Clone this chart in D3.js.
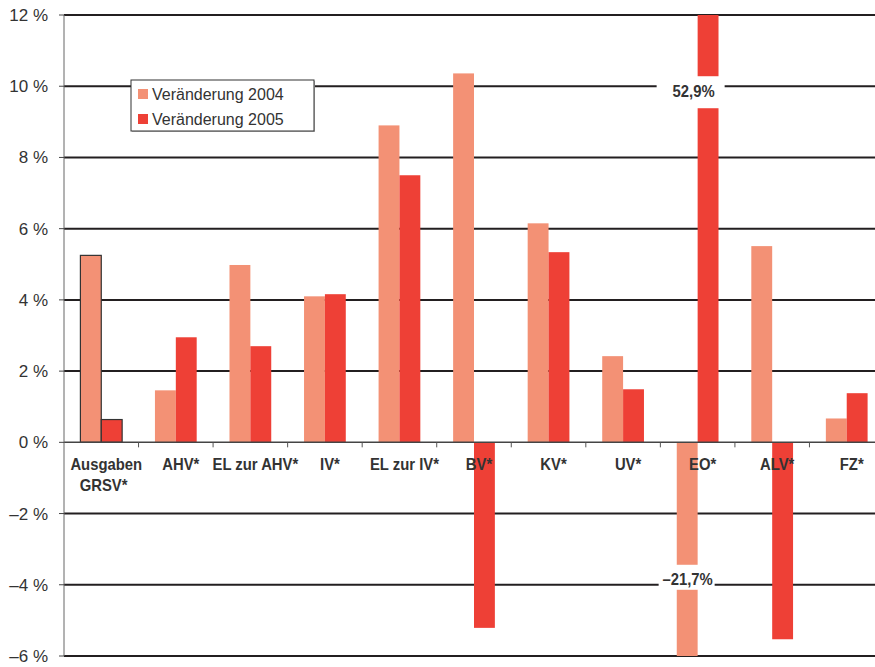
<!DOCTYPE html>
<html>
<head>
<meta charset="utf-8">
<script src="https://cdn.jsdelivr.net/npm/d3@7"></script>
<style>
body { margin: 0; background: #fff; }
text { font-family: "Liberation Sans", Arial, sans-serif; }
</style>
</head>
<body>
<script>
var categories = ['Ausgaben GRSV*', 'AHV*', 'EL zur AHV*', 'IV*', 'EL zur IV*', 'BV*', 'KV*', 'UV*', 'EO*', 'ALV*', 'FZ*'];
var series = ['Veränderung 2004', 'Veränderung 2005'];
var v2004 = [5.25, 1.46, 4.98, 4.10, 8.90, 10.36, 6.15, 2.42, -21.7, 5.51, 0.67];
var v2005 = [0.64, 2.95, 2.70, 4.16, 7.50, -5.21, 5.34, 1.49, 52.9, -5.53, 1.38];
var yTicks = [-6, -4, -2, 0, 2, 4, 6, 8, 10, 12];
// bars that run off the chart get a break with their value written in it
var breaks = [
	{cat: 'EO*', s: 1, at: 10, label: '52,9%'},
	{cat: 'EO*', s: 0, at: -4, label: '–21,7%'},
];

var colors = ['#f39175', '#ee4036'];
var values = [v2004, v2005];
var width = 875, height = 667;
var squeeze = 0.9; // bold labels are a condensed face in the original

var svg = d3.select('body').append('svg')
	.attr('width', width).attr('height', height);

var x = d3.scaleBand().domain(categories)
	.range([64, 884]).paddingInner(0.44).paddingOuter(0.22);
var xs = d3.scaleBand().domain(series).range([0, x.bandwidth()]);
var y = d3.scaleLinear().domain([-6, 12]).range([656, 15]);
var mid = c => x(c) + x.bandwidth() / 2;

svg.append('clipPath').attr('id', 'plot')
	.append('rect')
	.attr('x', 64).attr('y', y(12))
	.attr('width', width - 64).attr('height', y(-6) - y(12));

// gridlines
svg.append('g').selectAll('line')
	.data(yTicks.filter(d => d !== 0))
	.join('line')
	.attr('x1', 64).attr('x2', width)
	.attr('y1', y).attr('y2', y)
	.attr('stroke', '#231f20').attr('stroke-width', 2);

// bars
var bars = svg.append('g').attr('clip-path', 'url(#plot)');
series.forEach((s, si) => {
	bars.append('g').selectAll('rect')
		.data(categories.map((c, i) => ({c, v: values[si][i], i})))
		.join('rect')
		.attr('x', d => x(d.c) + xs(s))
		.attr('width', xs.bandwidth())
		.attr('y', d => y(Math.max(0, d.v)))
		.attr('height', d => Math.abs(y(d.v) - y(0)))
		.attr('fill', colors[si])
		.attr('stroke', d => d.i === 0 ? '#333' : 'none')
		.attr('stroke-width', 1.2);
});

// zero line + y axis
svg.append('line')
	.attr('x1', 64).attr('x2', width)
	.attr('y1', y(0)).attr('y2', y(0))
	.attr('stroke', '#444').attr('stroke-width', 1.5);
svg.append('line')
	.attr('x1', 64).attr('x2', 64)
	.attr('y1', y(12)).attr('y2', y(-6))
	.attr('stroke', '#666').attr('stroke-width', 1);

var yg = svg.append('g').selectAll('g').data(yTicks).join('g')
	.attr('transform', d => `translate(0,${y(d)})`);
yg.append('line').attr('x1', 59).attr('x2', 64)
	.attr('stroke', '#444').attr('stroke-width', 1);
yg.append('text')
	.attr('x', 48).attr('dy', '0.35em')
	.attr('text-anchor', 'end')
	.attr('font-size', 17).attr('fill', '#333')
	.text(d => (d < 0 ? '–' : '') + Math.abs(d) + ' %');

// category ticks between the groups
svg.append('g').selectAll('line')
	.data(categories.slice(1))
	.join('line')
	.attr('x1', d => x(d) - x.step() * x.paddingInner() / 2)
	.attr('x2', d => x(d) - x.step() * x.paddingInner() / 2)
	.attr('y1', y(0)).attr('y2', y(0) + 5)
	.attr('stroke', '#555').attr('stroke-width', 1);

// category labels
svg.append('g').selectAll('g')
	.data(categories)
	.join('g')
	.attr('transform', d => `translate(${mid(d) + 5},${y(0) + 28}) scale(${squeeze},1)`)
	.each(function(d) {
		var lines = d === 'Ausgaben GRSV*' ? ['Ausgaben', 'GRSV*'] : [d];
		d3.select(this).selectAll('text').data(lines).join('text')
			.attr('x', (l, i) => -i * 3)
			.attr('y', (l, i) => i * 21)
			.attr('text-anchor', 'middle')
			.attr('font-size', 16.5).attr('font-weight', 'bold').attr('fill', '#333')
			.text(l => l);
	});

// breaks
var bk = svg.append('g').selectAll('g').data(breaks).join('g');
bk.append('rect')
	.attr('x', d => mid(d.cat) - (d.s ? 41 : 39))
	.attr('y', d => y(d.at) - (d.s ? 10 : 20))
	.attr('width', d => d.s ? 68 : 56)
	.attr('height', d => d.s ? 32 : 25)
	.attr('fill', '#fff');
bk.append('text')
	.attr('transform', d => `translate(${mid(d.cat) - (d.s ? 4 : 10)},${y(d.at) + (d.s ? 11 : 0)}) scale(${squeeze},1)`)
	.attr('text-anchor', 'middle')
	.attr('font-size', 16.5).attr('font-weight', 'bold').attr('fill', '#333')
	.text(d => d.label);

// legend
var lg = svg.append('g').attr('transform', 'translate(131,80)');
lg.append('rect').attr('x', 1).attr('y', 1).attr('width', 183).attr('height', 51)
	.attr('fill', '#bbb');
lg.append('rect').attr('width', 183).attr('height', 51)
	.attr('fill', '#fff').attr('stroke', '#333').attr('stroke-width', 1);
var li = lg.selectAll('g.item').data(series).join('g')
	.attr('transform', (d, i) => `translate(7,${9 + i * 25})`);
li.append('rect').attr('width', 10).attr('height', 10)
	.attr('fill', (d, i) => colors[i]);
li.append('text')
	.attr('x', 14).attr('y', 11)
	.attr('font-size', 16).attr('fill', '#333')
	.text(d => d);
</script>
</body>
</html>
